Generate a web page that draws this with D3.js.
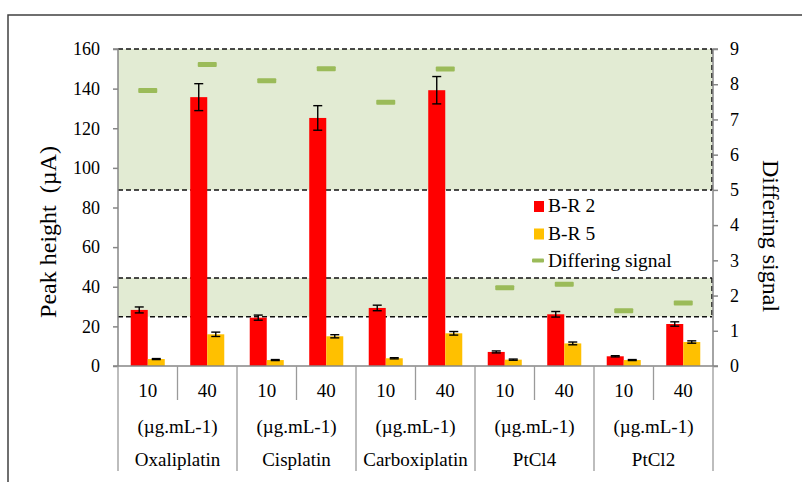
<!DOCTYPE html>
<html>
<head>
<meta charset="utf-8">
<script src="https://cdn.jsdelivr.net/npm/d3@7/dist/d3.min.js"></script>
<style>
  html, body { margin: 0; padding: 0; background: #fff; }
  svg { display: block; }
  svg text { font-family: "Liberation Serif", "Times New Roman", serif; }
</style>
</head>
<body>
<svg id="chart" width="802" height="482"></svg>
<script>
// Drug groups and the two concentrations tested for each
const groups = ["Oxaliplatin", "Cisplatin", "Carboxiplatin", "PtCl4", "PtCl2"];
const concentrations = ["10", "40"];
const unitLabel = "(µg.mL-1)";

// Peak heights (µA) per group/concentration, in group order
const br2 = [28.3, 135.7, 24.4, 125.2, 29.3, 139.2, 7.1, 26.1, 4.9, 21.2];
const br2Err = [1.5, 6.8, 1.3, 6.2, 1.4, 6.9, 0.5, 1.4, 0.3, 1.1];
const br5 = [3.5, 16.0, 3.0, 15.0, 3.9, 16.5, 3.2, 11.4, 3.0, 12.1];
const br5Err = [0.25, 1.1, 0.25, 0.8, 0.3, 0.9, 0.3, 0.7, 0.25, 0.6];

// Differing signal (right axis)
const signal = [7.82, 8.56, 8.10, 8.44, 7.49, 8.43, 2.22, 2.32, 1.57, 1.79];

// Highlighted ranges on the differing-signal axis
const bandRanges = [[1.4, 2.5], [5, 9]];

const leftTicks = [0, 20, 40, 60, 80, 100, 120, 140, 160];
const rightTicks = [0, 1, 2, 3, 4, 5, 6, 7, 8, 9];

const legendItems = [
  { label: "B-R 2", kind: "bar", color: "#ff0000" },
  { label: "B-R 5", kind: "bar", color: "#ffc000" },
  { label: "Differing signal", kind: "dash", color: "#9bbb59" }
];

const serif = "'Liberation Serif', 'Times New Roman', serif";
const svg = d3.select("#chart");
const plot = { left: 118, right: 713, top: 49, bottom: 366 };

const cats = [];
groups.forEach((g, gi) => concentrations.forEach((c, ci) => cats.push({ key: g + "|" + c, group: g, conc: c, i: gi * 2 + ci })));

const x = d3.scaleBand().domain(cats.map(d => d.key)).range([plot.left, plot.right]).padding(0);
const y = d3.scaleLinear().domain([0, 160]).range([plot.bottom, plot.top]);
const y2 = d3.scaleLinear().domain([0, 9]).range([plot.bottom, plot.top]);

const bw = x.bandwidth();
const barW = bw * 0.286;
const axisColor = "#868686";

// Outer frame
svg.append("rect")
  .attr("x", 8).attr("y", 15).attr("width", 900).attr("height", 600)
  .attr("fill", "none").attr("stroke", "#404040").attr("stroke-width", 1.5);

// Shaded bands with dashed edges
const bandG = svg.append("g");
bandRanges.forEach(([lo, hi]) => {
  const top = y2(hi), bot = y2(lo);
  bandG.append("rect")
    .attr("x", plot.left).attr("y", top)
    .attr("width", plot.right - plot.left - 1).attr("height", bot - top)
    .attr("fill", "#e2ebd3");
  [top, bot].forEach(yy => bandG.append("line")
    .attr("x1", plot.left).attr("x2", plot.right - 1)
    .attr("y1", yy).attr("y2", yy)
    .attr("stroke", "#111").attr("stroke-width", 1.5).attr("stroke-dasharray", "5,3"));
  bandG.append("line")
    .attr("x1", plot.right - 1).attr("x2", plot.right - 1)
    .attr("y1", top).attr("y2", bot)
    .attr("stroke", "#111").attr("stroke-width", 1.5).attr("stroke-dasharray", "5,3");
});

// Bars
const barG = svg.append("g");
barG.selectAll("rect.r").data(cats).join("rect")
  .attr("x", d => x(d.key) + bw / 2 - barW)
  .attr("y", d => y(br2[d.i]))
  .attr("width", barW)
  .attr("height", d => y(0) - y(br2[d.i]))
  .attr("fill", "#ff0000");
barG.selectAll("rect.y").data(cats).join("rect")
  .attr("x", d => x(d.key) + bw / 2)
  .attr("y", d => y(br5[d.i]))
  .attr("width", barW)
  .attr("height", d => y(0) - y(br5[d.i]))
  .attr("fill", "#ffc000");

// Error bars
function errorBars(vals, errs, offset) {
  const g = svg.append("g").attr("stroke", "#000").attr("stroke-width", 1.4);
  cats.forEach(d => {
    const cx = x(d.key) + bw / 2 + offset;
    const hi = y(vals[d.i] + errs[d.i]), lo = y(vals[d.i] - errs[d.i]);
    g.append("line").attr("x1", cx).attr("x2", cx).attr("y1", hi).attr("y2", lo);
    g.append("line").attr("x1", cx - 4.5).attr("x2", cx + 4.5).attr("y1", hi).attr("y2", hi);
    g.append("line").attr("x1", cx - 4.5).attr("x2", cx + 4.5).attr("y1", lo).attr("y2", lo);
  });
}
errorBars(br2, br2Err, -barW / 2);
errorBars(br5, br5Err, barW / 2);

// Differing signal markers
svg.append("g").selectAll("rect").data(cats).join("rect")
  .attr("x", d => x(d.key) + bw / 2 - 9.5)
  .attr("y", d => y2(signal[d.i]) - 2.5)
  .attr("width", 19).attr("height", 5).attr("rx", 1)
  .attr("fill", "#9bbb59");

// Left axis
const leftAxis = svg.append("g")
  .attr("transform", `translate(${plot.left},0)`)
  .call(d3.axisLeft(y).tickValues(leftTicks).tickSize(5).tickPadding(13));
leftAxis.attr("font-family", null);
leftAxis.selectAll("path, line").attr("stroke", axisColor).attr("stroke-width", 1.5);
leftAxis.select(".domain").attr("d", `M-5,${plot.top}H0V${plot.bottom}H-5`);
leftAxis.selectAll("text").attr("font-size", 18).attr("fill", "#000");

// Right axis
const rightAxis = svg.append("g")
  .attr("transform", `translate(${plot.right},0)`)
  .call(d3.axisRight(y2).tickValues(rightTicks).tickSize(5).tickPadding(12));
rightAxis.attr("font-family", null);
rightAxis.selectAll("path, line").attr("stroke", axisColor).attr("stroke-width", 1.5);
rightAxis.select(".domain").attr("d", `M5,${plot.top}H0V${plot.bottom}H5`);
rightAxis.selectAll("text").attr("font-size", 18).attr("fill", "#000");

// Category axis baseline and multi-level separators
const catG = svg.append("g");
catG.append("line")
  .attr("x1", plot.left).attr("x2", plot.right)
  .attr("y1", plot.bottom).attr("y2", plot.bottom)
  .attr("stroke", axisColor).attr("stroke-width", 1.5);
const edges = d3.range(cats.length + 1).map(i => plot.left + i * bw);
edges.forEach((ex, i) => {
  const isGroupEdge = i % 2 === 0;
  catG.append("line")
    .attr("x1", ex).attr("x2", ex)
    .attr("y1", plot.bottom).attr("y2", isGroupEdge ? 471 : 400)
    .attr("stroke", "#9a9a9a").attr("stroke-width", 1.3);
});

// Concentration labels
catG.selectAll("text.conc").data(cats).join("text")
  .attr("x", d => x(d.key) + bw / 2)
  .attr("y", 397)
  .attr("text-anchor", "middle")
  .attr("font-size", 19)
  .text(d => d.conc);

// Unit and group labels
groups.forEach((g, gi) => {
  const cx = plot.left + (gi * 2 + 1) * bw;
  catG.append("text").attr("x", cx).attr("y", 433)
    .attr("text-anchor", "middle").attr("font-size", 19).text(unitLabel);
  catG.append("text").attr("x", cx).attr("y", 466)
    .attr("text-anchor", "middle").attr("font-size", 19).text(g);
});

// Axis titles
svg.append("text")
  .attr("transform", "translate(56,232) rotate(-90)")
  .attr("text-anchor", "middle").attr("font-size", 24)
  .attr("xml:space", "preserve")
  .text("Peak height  (µA)");
svg.append("text")
  .attr("transform", "translate(763,236) rotate(90)")
  .attr("text-anchor", "middle").attr("font-size", 24)
  .text("Differing signal");

// Legend
const legend = svg.append("g").attr("transform", "translate(534,0)");
legendItems.forEach((it, i) => {
  const base = 212 + i * 27.5;
  if (it.kind === "bar") {
    legend.append("rect").attr("x", 0).attr("y", base - 11).attr("width", 10).attr("height", 11).attr("fill", it.color);
  } else {
    legend.append("rect").attr("x", -2).attr("y", base - 8.5).attr("width", 12).attr("height", 4).attr("rx", 1).attr("fill", it.color);
  }
  legend.append("text").attr("x", 14).attr("y", base).attr("font-size", 19.5).text(it.label);
});

// Serif face on every label
svg.selectAll("text").style("font-family", serif);
</script>
</body>
</html>
